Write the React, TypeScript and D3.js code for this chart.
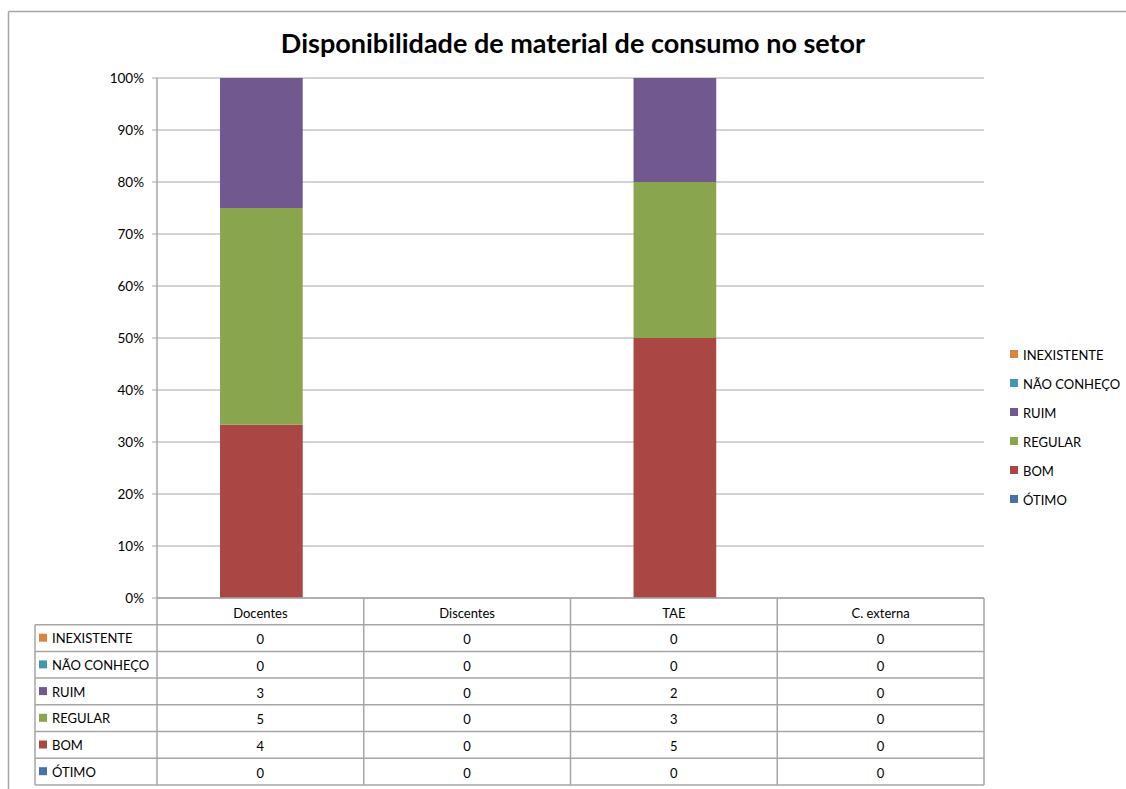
import React from "react";
import * as d3 from "d3";

const categories = ["Docentes", "Discentes", "TAE", "C. externa"];
// series listed in table order (top to bottom)
const seriesNames = ["INEXISTENTE", "NÃO CONHEÇO", "RUIM", "REGULAR", "BOM", "ÓTIMO"];
const inexistente = [0, 0, 0, 0];
const naoConheco = [0, 0, 0, 0];
const ruim = [3, 0, 2, 0];
const regular = [5, 0, 3, 0];
const bom = [4, 0, 5, 0];
const otimo = [0, 0, 0, 0];
const seriesValues = [inexistente, naoConheco, ruim, regular, bom, otimo];
const seriesColors = ["#DB843D", "#4198AF", "#71588F", "#89A54E", "#AA4643", "#4572A7"];
const yTicks = [0, 0.1, 0.2, 0.3, 0.4, 0.5, 0.6, 0.7, 0.8, 0.9, 1];
const title = "Disponibilidade de material de consumo no setor";

const FONT = "Lato, 'Open Sans', sans-serif";
const GRID = "#A6A6A6";

export default function App() {
  const W = 1126, H = 789;
  const plotL = 157, plotR = 984, plotT = 78, plotB = 598;
  const x = d3.scaleBand<string>().domain(categories).range([plotL, plotR]).paddingInner(0).paddingOuter(0);
  const y = d3.scaleLinear().domain([0, 1]).range([plotB, plotT]);
  const barW = x.bandwidth() * 0.4;

  // stack bottom-to-top: ÓTIMO, BOM, REGULAR, RUIM, NÃO CONHEÇO, INEXISTENTE
  const stackOrder = [...seriesNames].reverse();
  const rows = categories.map((c, i) => {
    const r: any = { cat: c };
    seriesNames.forEach((s, k) => (r[s] = seriesValues[k][i]));
    const tot = d3.sum(seriesValues.map((v) => v[i]));
    r.total = tot;
    seriesNames.forEach((s) => (r[s + "_p"] = tot > 0 ? r[s] / tot : 0));
    return r;
  });
  const stack = d3.stack<any>().keys(stackOrder.map((s) => s + "_p"))(rows);

  const tableL = 35;
  const headerTop = plotB, rowH = 26.7;
  const rowTop = (k: number) => headerTop + rowH * (k + 1);
  const tableBottom = rowTop(seriesNames.length);

  const legendX = 1010, legendY0 = 355, legendStep = 29;

  return (
    <svg width={W} height={H} style={{ position: "absolute", left: 0, top: 0, background: "#fff" }}>
      {/* outer chart border */}
      <line x1={8.5} y1={11.5} x2={W} y2={11.5} stroke={GRID} strokeWidth={1.5} />
      <line x1={8.5} y1={11.5} x2={8.5} y2={H} stroke={GRID} strokeWidth={1.5} />

      <text x={573} y={53} textAnchor="middle" fontFamily={FONT} fontWeight="bold" fontSize={27} fill="#000">
        {title}
      </text>

      {/* gridlines and y ticks */}
      {yTicks.map((t) => (
        <g key={t}>
          <line x1={plotL - 5} x2={plotR} y1={y(t)} y2={y(t)} stroke={GRID} strokeWidth={1} />
          <text x={144} y={y(t) + 4.5} textAnchor="end" fontFamily={FONT} fontSize={13.5} fill="#000">
            {d3.format(".0%")(t)}
          </text>
        </g>
      ))}
      <line x1={plotL} x2={plotL} y1={plotT} y2={plotB} stroke={GRID} strokeWidth={1.5} />

      {/* bars */}
      {stack.map((layer, li) => {
        const name = stackOrder[li];
        const color = seriesColors[seriesNames.indexOf(name)];
        return (
          <g key={name}>
            {layer.map((d, i) =>
              d[1] - d[0] > 0 ? (
                <rect
                  key={i}
                  x={(x(categories[i]) as number) + (x.bandwidth() - barW) / 2 + 1}
                  width={barW}
                  y={y(d[1])}
                  height={y(d[0]) - y(d[1])}
                  fill={color}
                />
              ) : null
            )}
          </g>
        );
      })}

      {/* data table */}
      <g>
        {/* header row */}
        <line x1={plotL} x2={plotR} y1={headerTop} y2={headerTop} stroke={GRID} strokeWidth={1.5} />
        {categories.map((c) => (
          <text key={c} x={(x(c) as number) + x.bandwidth() / 2} y={headerTop + 20} textAnchor="middle" fontFamily={FONT} fontSize={13} fill="#000">
            {c}
          </text>
        ))}
        {/* horizontal lines */}
        {seriesNames.map((s, k) => (
          <line key={s} x1={tableL} x2={plotR} y1={rowTop(k)} y2={rowTop(k)} stroke={GRID} strokeWidth={1.5} />
        ))}
        <line x1={tableL} x2={plotR} y1={tableBottom} y2={tableBottom} stroke={GRID} strokeWidth={1.5} />
        {/* vertical lines */}
        <line x1={tableL} x2={tableL} y1={rowTop(0)} y2={tableBottom} stroke={GRID} strokeWidth={1.5} />
        {categories.map((c) => (
          <line key={c} x1={x(c) as number} x2={x(c) as number} y1={headerTop} y2={tableBottom} stroke={GRID} strokeWidth={1.5} />
        ))}
        <line x1={plotR} x2={plotR} y1={headerTop} y2={tableBottom} stroke={GRID} strokeWidth={1.5} />
        {/* row labels and values */}
        {seriesNames.map((s, k) => (
          <g key={s}>
            <rect x={39} y={rowTop(k) + 9} width={8} height={8} fill={seriesColors[k]} />
            <text x={52} y={rowTop(k) + 18.5} fontFamily={FONT} fontSize={13} fill="#000">
              {s}
            </text>
            {categories.map((c, i) => (
              <text key={c} x={(x(c) as number) + x.bandwidth() / 2} y={rowTop(k) + 19.5} textAnchor="middle" fontFamily={FONT} fontSize={13} fill="#000">
                {seriesValues[k][i]}
              </text>
            ))}
          </g>
        ))}
      </g>

      {/* legend */}
      {seriesNames.map((s, k) => (
        <g key={s}>
          <rect x={legendX} y={legendY0 + k * legendStep - 5} width={8} height={8} fill={seriesColors[k]} />
          <text x={legendX + 13} y={legendY0 + k * legendStep + 5} fontFamily={FONT} fontSize={13} fill="#000">
            {s}
          </text>
        </g>
      ))}
    </svg>
  );
}
